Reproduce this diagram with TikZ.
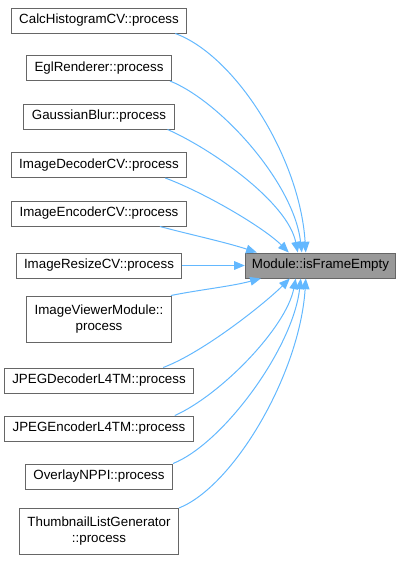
\documentclass[tikz,border=0pt]{standalone}
\usepackage{fontspec}
\setmainfont{Liberation Sans}
\usepackage{tikz}
\usetikzlibrary{calc, arrows.meta}
\definecolor{callblue}{HTML}{63B8FF}

\begin{document}
\begin{tikzpicture}[x=0.75pt, y=-0.75pt,
    box/.style={draw=black!60, fill=white, line width=0.75pt, minimum height=18.75pt,
        inner xsep=6pt, inner ysep=2pt, align=center, font=\fontsize{10}{12}\selectfont},
    box2/.style={box, minimum height=34.5pt},
    callee/.style={box, fill=black!40, inner xsep=5pt},
    call/.style={draw=callblue, line width=0.75pt, -{Triangle[length=8pt, width=6.5pt]}}]
                \useasboundingbox (0,0) rectangle (400,561);
                \node[box] (calc) at (99,20.5) {CalcHistogramCV::process};
                \node[box] (egl) at (99,68) {EglRenderer::process};
                \node[box] (gauss) at (99,116.5) {GaussianBlur::process};
                \node[box] (imgdec) at (99,165) {ImageDecoderCV::process};
                \node[box] (imgenc) at (99,213.5) {ImageEncoderCV::process};
                \node[box] (imgres) at (99,265.5) {ImageResizeCV::process};
                \node[box2] (imgview) at (99,319) {ImageViewerModule::\\process};
                \node[box] (jpegdec) at (99,380.5) {JPEGDecoderL4TM::process};
                \node[box] (jpegenc) at (99,428.5) {JPEGEncoderL4TM::process};
                \node[box] (overlay) at (99,476.5) {OverlayNPPI::process};
                \node[box2] (thumb) at (99,531.5) {ThumbnailListGenerator\\::process};
                \node[callee] (mod) at (320.5,265.5) {Module::isFrameEmpty};
                % callers above
                \draw[call] ($(calc.south east)+(-12,0)$) .. controls +(60,22) and +(-6,-95) .. ($(mod.north west)+(61,0)$);
                \draw[call] ($(egl.south east)+(-2,0)$) .. controls +(50,20) and +(-8,-70) .. ($(mod.north west)+(57,0)$);
                \draw[call] ($(gauss.south east)+(-7,0)$) .. controls +(45,20) and +(-10,-50) .. ($(mod.north west)+(53,0)$);
                \draw[call] ($(imgdec.south east)+(-22,0)$) .. controls +(40,15) and +(-25,-25) .. ($(mod.north west)+(44,0)$);
                \draw[call] ($(imgenc.south east)+(-27,0)$) .. controls +(30,8) and +(-30,-10) .. ($(mod.north west)+(12,0)$);
                \draw[call] (imgres) -- (mod);
                % callers below
                \draw[call] ($(imgview.north east)+(-1,0)$) .. controls +(30,-6) and +(-30,8) .. ($(mod.south west)+(16,0)$);
                \draw[call] ($(jpegdec.north east)+(-31,0)$) .. controls +(40,-15) and +(-25,25) .. ($(mod.south west)+(45,0)$);
                \draw[call] ($(jpegenc.north east)+(-19,0)$) .. controls +(45,-20) and +(-10,50) .. ($(mod.south west)+(51,0)$);
                \draw[call] ($(overlay.north east)+(0,0)$) .. controls +(50,-20) and +(-8,70) .. ($(mod.south west)+(56,0)$);
                \draw[call] ($(thumb.north east)+(0,0)$) .. controls +(55,-22) and +(-6,95) .. ($(mod.south west)+(61,0)$);
            \end{tikzpicture}
\end{document}
